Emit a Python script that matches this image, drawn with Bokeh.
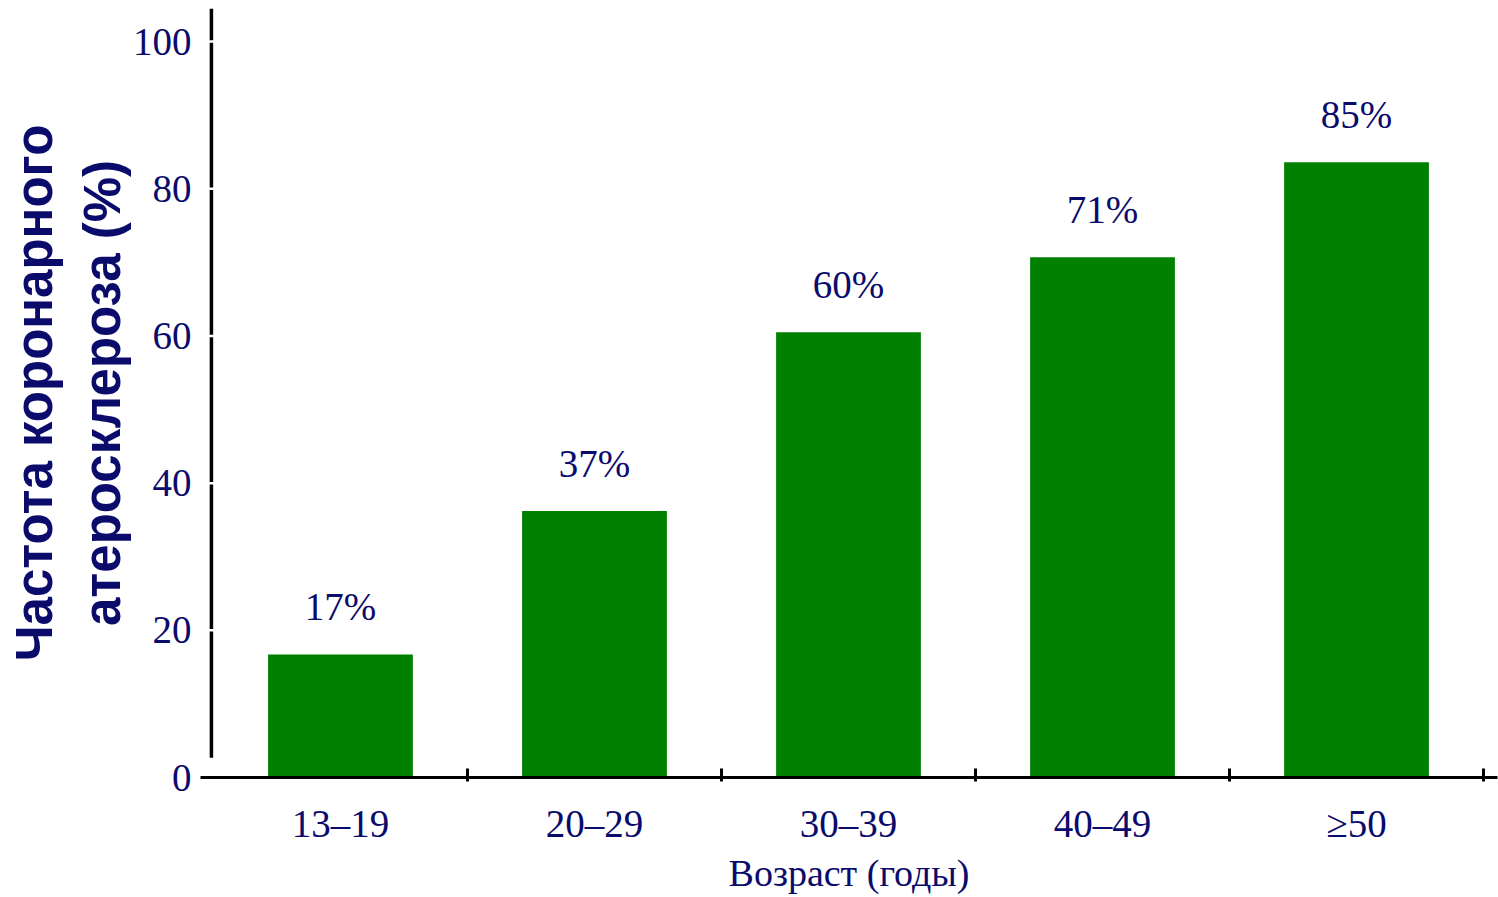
from bokeh.plotting import figure
from bokeh.models import FixedTicker, ColumnDataSource
from bokeh.core.properties import value
from bokeh.embed import file_html
from bokeh.resources import INLINE

# ---- data ----
age_groups = ["13–19", "20–29", "30–39", "40–49", "≥50"]
bar_heights = [16.7, 36.2, 60.5, 70.7, 83.6]
pct_labels = [17, 37, 60, 71, 85]
y_ticks = [0, 20, 40, 60, 80, 100]

NAVY = "#0b0b6c"
GREEN = "#008000"

xs = list(range(len(age_groups)))
src = ColumnDataSource(dict(
    x=xs,
    top=bar_heights,
    lab=[f"{v}%" for v in pct_labels],
))

p = figure(width=1498, height=897, output_backend="svg", toolbar_location=None,
           x_range=(-0.551, 4.555), y_range=(0, 104.5),
           min_border_left=200, min_border_right=1, min_border_top=8,
           min_border_bottom=120)
p.outline_line_color = None
p.grid.visible = False
p.background_fill_color = "white"
p.border_fill_color = "white"

p.vbar(x="x", top="top", bottom=0, width=0.57, source=src,
       fill_color=GREEN, line_color=None)

p.text(x="x", y="top", text="lab", source=src, y_offset=-48,
       text_align="center", text_baseline="middle",
       text_font=value("Liberation Serif"), text_font_size="39px",
       text_color=NAVY)

# manual y-axis line (drawn slightly right of the frame edge)
yax_x = -0.508
p.segment(x0=[yax_x], y0=[2.7], x1=[yax_x], y1=[104.5], line_color="black",
          line_width=3.5)
# small white gaps at tick positions
p.segment(x0=[yax_x - 0.02] * 5, y0=y_ticks[1:], x1=[yax_x + 0.02] * 5,
          y1=y_ticks[1:], line_color="white", line_width=2.5)

# x axis
xa = p.xaxis[0]
xa.ticker = FixedTicker(ticks=xs, minor_ticks=[i + 0.5 for i in xs])
xa.major_label_overrides = {i: g for i, g in enumerate(age_groups)}
xa.major_tick_line_color = None
xa.minor_tick_line_color = "black"
xa.minor_tick_line_width = 3
xa.minor_tick_in = 9
xa.minor_tick_out = 4
xa.axis_line_width = 3
xa.axis_line_color = "black"
xa.major_label_text_font = "Liberation Serif"
xa.major_label_text_font_size = "39px"
xa.major_label_text_color = NAVY
xa.major_label_standoff = 18
xa.axis_label = "Возраст (годы)"
xa.axis_label_text_font = "Liberation Serif"
xa.axis_label_text_font_size = "38px"
xa.axis_label_text_font_style = "normal"
xa.axis_label_text_color = NAVY
xa.axis_label_standoff = 4

# y axis (labels only)
ya = p.yaxis[0]
ya.ticker = FixedTicker(ticks=y_ticks, minor_ticks=[])
ya.axis_line_color = None
ya.major_tick_line_color = None
ya.minor_tick_line_color = None
ya.major_label_standoff = 3
ya.major_label_text_font = "Liberation Serif"
ya.major_label_text_font_size = "39px"
ya.major_label_text_color = NAVY
ya.axis_label = "Частота коронарного\nатеросклероза (%)"
ya.axis_label_text_font = "Liberation Sans"
ya.axis_label_text_font_size = "51px"
ya.axis_label_text_font_style = "bold"
ya.axis_label_text_color = NAVY
ya.axis_label_standoff = -1

open("out.html", "w").write(file_html(p, INLINE))
